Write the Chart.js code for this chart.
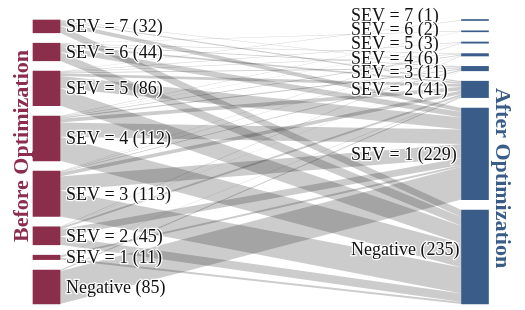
<!DOCTYPE html>
<html>
<head>
<meta charset="utf-8">
<script src="https://cdn.jsdelivr.net/npm/chart.js@4.4.1/dist/chart.umd.min.js"></script>
<style>
  html, body { margin: 0; padding: 0; background: #fff; }
  #wrap { width: 525px; height: 310px; }
</style>
</head>
<body>
<div id="wrap"><canvas id="sankey" width="525" height="310"></canvas></div>
<script>
// node names and totals
const leftNames = ['SEV = 7', 'SEV = 6', 'SEV = 5', 'SEV = 4', 'SEV = 3', 'SEV = 2', 'SEV = 1', 'Negative'];
const leftValues = [32, 44, 86, 112, 113, 45, 11, 85];
const rightNames = ['SEV = 7', 'SEV = 6', 'SEV = 5', 'SEV = 4', 'SEV = 3', 'SEV = 2', 'SEV = 1', 'Negative'];
const rightValues = [1, 2, 3, 6, 11, 41, 229, 235];

// flows: row = before, column = after (SEV7 ... SEV1, Negative)
const flowSev7 = [0, 0, 0, 0, 1, 3, 10, 18];
const flowSev6 = [0, 1, 0, 1, 2, 4, 14, 22];
const flowSev5 = [1, 0, 1, 1, 2, 7, 30, 44];
const flowSev4 = [0, 1, 1, 2, 3, 9, 36, 60];
const flowSev3 = [0, 0, 1, 1, 2, 9, 35, 65];
const flowSev2 = [0, 0, 0, 1, 1, 5, 17, 21];
const flowSev1 = [0, 0, 0, 0, 0, 1, 5, 5];
const flowNeg = [0, 0, 0, 0, 0, 3, 82, 0];
const flows = [flowSev7, flowSev6, flowSev5, flowSev4, flowSev3, flowSev2, flowSev1, flowNeg];

const BEFORE_COLOR = '#8a2e4c';
const AFTER_COLOR = '#395d88';
const PX_PER_UNIT = 0.40;
const GAP = 10.4 / PX_PER_UNIT;   // node padding in value units
const NODE_W = 27;
const LABEL_SPACING = 14.3;

// stack nodes top to bottom with padding
function layout(values) {
  let y = 0;
  return values.map(v => {
    const n = { y0: y, y1: y + v };
    y += v + GAP;
    return n;
  });
}
const leftNodes = layout(leftValues);
const rightNodes = layout(rightValues);

// push crowded labels apart, keeping each crowded group centred on its nodes
function spread(centers, minGap) {
  const out = centers.slice();
  let start = 0;
  for (let i = 1; i <= out.length; i++) {
    if (i < out.length && out[i] - out[i - 1] < minGap) continue;
    if (i - start > 1) {
      const grp = centers.slice(start, i);
      const mean = grp.reduce((a, b) => a + b, 0) / grp.length;
      const first = mean - minGap * (grp.length - 1) / 2;
      for (let k = start; k < i; k++) out[k] = first + (k - start) * minGap;
    }
    start = i;
  }
  return out;
}

const sankeyPlugin = {
  id: 'sankey',
  beforeDatasetsDraw(chart) {
    const { ctx, scales: { x, y } } = chart;
    const xa = x.getPixelForValue(0) + NODE_W / 2;
    const xb = x.getPixelForValue(1) - NODE_W / 2;
    const outOff = leftNodes.map(n => n.y0);
    const inOff = rightNodes.map(n => n.y0);
    ctx.save();
    ctx.fillStyle = 'rgba(0,0,0,0.2)';
    for (let i = 0; i < flows.length; i++) {
      for (let j = 0; j < flows[i].length; j++) {
        const v = flows[i][j];
        if (!v) continue;
        const s0 = y.getPixelForValue(outOff[i]);
        const s1 = y.getPixelForValue(outOff[i] + v);
        const t0 = y.getPixelForValue(inOff[j]);
        const t1 = y.getPixelForValue(inOff[j] + v);
        outOff[i] += v;
        inOff[j] += v;
        ctx.beginPath();
        ctx.moveTo(xa, s0);
        ctx.lineTo(xb, t0);
        ctx.lineTo(xb, t1);
        ctx.lineTo(xa, s1);
        ctx.closePath();
        ctx.fill();
      }
    }
    ctx.restore();
  },
  afterDatasetsDraw(chart) {
    const { ctx, scales: { x, y } } = chart;
    ctx.save();
    ctx.font = '18px "Liberation Serif", "DejaVu Serif", serif';
    ctx.textBaseline = 'middle';
    ctx.lineJoin = 'round';
    const label = (txt, px, py) => {
      ctx.strokeStyle = 'rgba(255,255,255,0.9)';
      ctx.lineWidth = 2.5;
      ctx.strokeText(txt, px, py);
      ctx.fillStyle = '#111';
      ctx.fillText(txt, px, py);
    };
    const lx = x.getPixelForValue(0) + NODE_W / 2 + 6;
    leftNodes.forEach((n, i) => {
      label(leftNames[i] + ' (' + leftValues[i] + ')', lx, y.getPixelForValue((n.y0 + n.y1) / 2) + 1);
    });
    const rx = 351;
    const rCenters = spread(rightNodes.map(n => y.getPixelForValue((n.y0 + n.y1) / 2)), LABEL_SPACING);
    rightNodes.forEach((n, i) => {
      const nudge = rightNames[i] === 'Negative' ? -7 : 1;
      label(rightNames[i] + ' (' + rightValues[i] + ')', rx, rCenters[i] + nudge);
    });

    // column titles
    ctx.font = 'bold 22px "Liberation Serif", "DejaVu Serif", serif';
    ctx.textAlign = 'center';
    ctx.textBaseline = 'middle';
    ctx.save();
    ctx.translate(22, 146);
    ctx.rotate(-Math.PI / 2);
    ctx.fillStyle = BEFORE_COLOR;
    ctx.fillText('Before Optimization', 0, 0);
    ctx.restore();
    ctx.save();
    ctx.translate(502, 178);
    ctx.rotate(Math.PI / 2);
    ctx.fillStyle = AFTER_COLOR;
    ctx.fillText('After Optimization', 0, 0);
    ctx.restore();
    ctx.restore();
  }
};

// map column 0 -> 46.5px and column 1 -> 475px across the 525px canvas
const span = 525 / (475 - 46.5);
const xMin = -46.5 / (475 - 46.5);

new Chart(document.getElementById('sankey'), {
  type: 'bar',
  data: {
    datasets: [
      {
        label: 'Before Optimization',
        data: leftNodes.map(n => ({ x: 0, y: [n.y0, n.y1] })),
        backgroundColor: BEFORE_COLOR,
        barThickness: NODE_W,
        minBarLength: 1,
        grouped: false
      },
      {
        label: 'After Optimization',
        data: rightNodes.map(n => ({ x: 1, y: [n.y0, n.y1] })),
        backgroundColor: AFTER_COLOR,
        barThickness: NODE_W,
        minBarLength: 1,
        grouped: false
      }
    ]
  },
  options: {
    responsive: false,
    animation: false,
    layout: { padding: 0 },
    scales: {
      x: { type: 'linear', min: xMin, max: xMin + span, offset: false, display: false },
      y: { type: 'linear', min: -20 / PX_PER_UNIT, max: 290 / PX_PER_UNIT, reverse: true, display: false }
    },
    plugins: {
      legend: { display: false },
      tooltip: { enabled: false }
    }
  },
  plugins: [sankeyPlugin]
});
</script>
</body>
</html>
